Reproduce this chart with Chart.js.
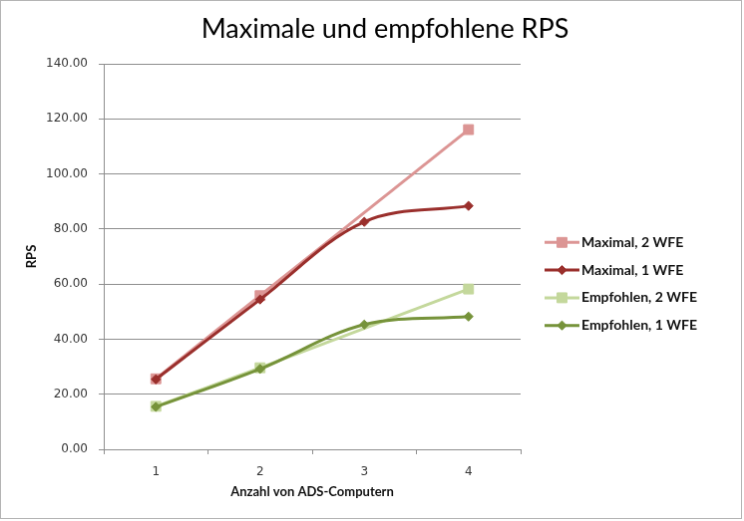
<!DOCTYPE html>
<html>
<head>
<meta charset="utf-8">
<title>Maximale und empfohlene RPS</title>
<script src="https://cdn.jsdelivr.net/npm/chart.js@4.4.0/dist/chart.umd.min.js"></script>
<style>
  html, body { margin: 0; padding: 0; background: #fff; }
  #chartRps { display: block; border: 1px solid #b4b4b4; }
</style>
</head>
<body>
<canvas id="chartRps" width="742" height="519"></canvas>
<script>
// data
const categories = ['1', '2', '3', '4'];
const seriesLabels = ['Maximal, 2 WFE', 'Maximal, 1 WFE', 'Empfohlen, 2 WFE', 'Empfohlen, 1 WFE'];
const maximal2 = [25.6, 55.8, null, 116.1];
const maximal1 = [25.4, 54.4, 82.6, 88.4];
const empfohlen2 = [15.6, 29.6, null, 58.2];
const empfohlen1 = [15.4, 29.2, 45.3, 48.2];
const yTicks = [0, 20, 40, 60, 80, 100, 120, 140];

const chartTitle = 'Maximale und empfohlene RPS';
const xTitle = 'Anzahl von ADS-Computern';
const yTitle = 'RPS';

const COLORS = {
  pink: '#dc9594',
  darkRed: '#9a2f2c',
  lightGreen: '#c4d89c',
  olive: '#76933a',
  grid: '#8f8f8f',
  text: '#363636'
};

function series(label, data, color, square, order) {
  return {
    label,
    data,
    borderColor: color,
    backgroundColor: color,
    borderWidth: 3,
    tension: 0.35,
    spanGaps: true,
    pointStyle: square ? 'rect' : 'rectRot',
    pointRadius: square ? 7 : 4.6,
    pointHoverRadius: square ? 7 : 4.6,
    pointBorderWidth: 1,
    pointBorderColor: color,
    pointBackgroundColor: color,
    order
  };
}

// title and excel-style legend (line + marker) drawn on the canvas
const decorPlugin = {
  id: 'decor',
  afterDraw(chart) {
    const ctx = chart.ctx;
    ctx.save();
    ctx.fillStyle = '#000';
    ctx.font = '27px Lato';
    ctx.textAlign = 'center';
    ctx.textBaseline = 'alphabetic';
    ctx.fillText(chartTitle, 385, 37);

    const x0 = 545, x1 = 580, top = 242.3, step = 27.8;
    chart.data.datasets.forEach((ds, i) => {
      const y = top + i * step;
      ctx.strokeStyle = ds.borderColor;
      ctx.lineWidth = 3;
      ctx.beginPath();
      ctx.moveTo(x0, y);
      ctx.lineTo(x1, y);
      ctx.stroke();
      ctx.fillStyle = ds.pointBackgroundColor;
      ctx.lineWidth = 1;
      Chart.helpers.drawPoint(ctx, { pointStyle: ds.pointStyle, radius: ds.pointRadius, rotation: 0, borderWidth: 1 }, (x0 + x1) / 2, y);
      ctx.fillStyle = '#111';
      ctx.font = 'bold 14px Lato';
      ctx.textAlign = 'left';
      ctx.textBaseline = 'middle';
      ctx.fillText(ds.label, 582, y);
    });
    ctx.restore();
  }
};

new Chart(document.getElementById('chartRps'), {
  type: 'line',
  data: {
    labels: categories,
    datasets: [
      series(seriesLabels[0], maximal2, COLORS.pink, true, 4),
      series(seriesLabels[1], maximal1, COLORS.darkRed, false, 3),
      series(seriesLabels[2], empfohlen2, COLORS.lightGreen, true, 2),
      series(seriesLabels[3], empfohlen1, COLORS.olive, false, 1)
    ]
  },
  options: {
    responsive: false,
    animation: false,
    layout: { padding: { left: 23, right: 221, top: 63, bottom: 18 } },
    plugins: {
      legend: { display: false },
      title: { display: false },
      tooltip: { enabled: false }
    },
    scales: {
      x: {
        offset: true,
        grid: { offset: true, drawOnChartArea: false, color: COLORS.grid, tickLength: 5 },
        border: { color: COLORS.grid },
        ticks: { color: COLORS.text, padding: 11, font: { family: 'DejaVu Sans', size: 12 } },
        title: { display: true, text: xTitle, color: '#111', padding: { top: 0, bottom: 0 }, font: { family: 'Lato', size: 13, weight: 'bold' } },
        afterFit(scale) { scale.height = 51; }
      },
      y: {
        min: yTicks[0],
        max: yTicks[yTicks.length - 1],
        afterBuildTicks(scale) { scale.ticks = yTicks.map(v => ({ value: v })); },
        grid: { color: COLORS.grid, tickLength: 5 },
        border: { color: COLORS.grid },
        ticks: { color: COLORS.text, padding: 11, font: { family: 'DejaVu Sans', size: 12 }, callback: v => Number(v).toFixed(2) },
        title: { display: true, text: yTitle, color: '#111', padding: { top: 0, bottom: 0 }, font: { family: 'Lato', size: 13, weight: 'bold' } },
        afterFit(scale) { scale.width = 80; }
      }
    }
  },
  plugins: [decorPlugin]
});
</script>
</body>
</html>
